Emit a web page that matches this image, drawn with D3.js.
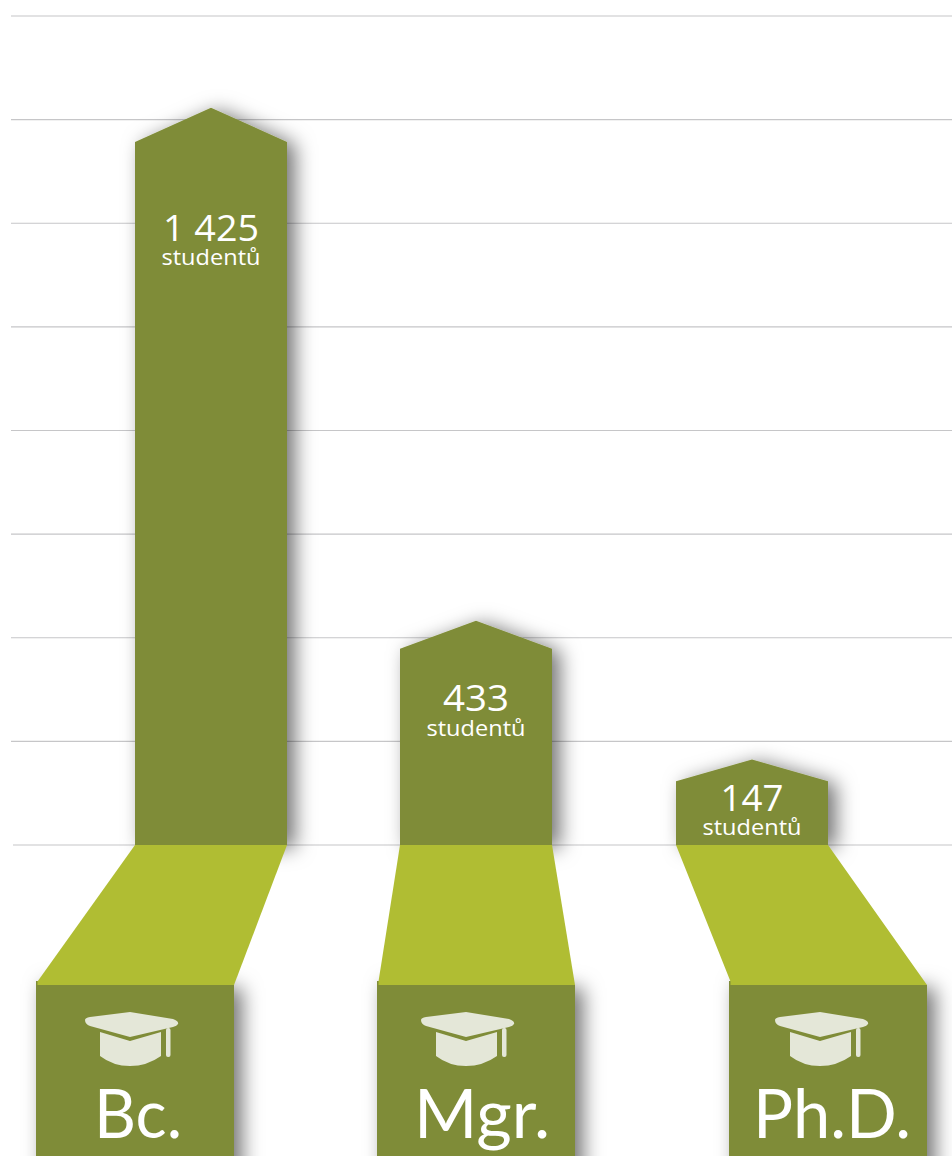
<!DOCTYPE html>
<html><head><meta charset="utf-8">
<script src="https://cdn.jsdelivr.net/npm/d3@7/dist/d3.min.js"></script>
<style>html,body{margin:0;padding:0;background:#fff}svg{display:block}text{font-family:"Open Sans",sans-serif;fill:#fff;text-anchor:middle}</style>
</head><body><div id="c"></div>
<script>
const categories = ["Bc.", "Mgr.", "Ph.D."];
const countLabels = ["1 425", "433", "147"];
const drawnValues = [1423, 433, 165]; // tip height (not strictly to scale)
const shoulderDrops = [66, 54, 42];   // tip-to-shoulder in value units
const unitLabel = "studentů";
const gridValues = [0, 200, 400, 600, 800, 1000, 1200, 1400, 1600];

const W = 952, H = 1156;
const dark = "#7f8c37", light = "#b0bd33", icon = "#e4e7d8";
const y = d3.scaleLinear().domain([0, 1600]).range([845, 16]);
const barCenters = {"Bc.":211,"Mgr.":476,"Ph.D.":752};
const boxCenters = {"Bc.":135,"Mgr.":476,"Ph.D.":828};
const iconCenters = {"Bc.":131,"Mgr.":467,"Ph.D.":821};
const labelCenters = {"Bc.":138,"Mgr.":482,"Ph.D.":832};
const barHalf = 76, boxHalf = 99, boxTop = 985;

const svg = d3.select("#c").append("svg").attr("width", W).attr("height", H);
const f = svg.append("defs").append("filter").attr("id","sh")
  .attr("x","-40%").attr("y","-30%").attr("width","190%").attr("height","160%");
f.append("feDropShadow").attr("dx",8).attr("dy",3).attr("stdDeviation",10)
  .attr("flood-color","#000").attr("flood-opacity",0.55);

svg.append("g").selectAll("line").data(gridValues).join("line")
  .attr("x1", d => d === 0 ? 13 : 11).attr("x2", W)
  .attr("y1", d => y(d)).attr("y2", d => y(d))
  .attr("stroke","#c6c6c8").attr("stroke-width",1.2);

const g = svg.append("g").selectAll("g").data(categories).join("g");

// upright arrow bars
g.append("path").attr("filter","url(#sh)").attr("fill",dark).attr("d",(c,i)=>{
  const cx = barCenters[c], tip = y(drawnValues[i]), sh = y(drawnValues[i]-shoulderDrops[i]);
  return `M${cx-barHalf},${y(0)}V${sh}L${cx},${tip}L${cx+barHalf},${sh}V${y(0)}Z`;
});

// bottom boxes
g.append("path").attr("filter","url(#sh)").attr("fill",dark).attr("d",c=>{
  const cx = boxCenters[c];
  return `M${cx-boxHalf},${boxTop-4}V${H+40}H${cx+boxHalf}V${boxTop}Z`;
});

// floor trapezoids
g.append("path").attr("fill",light).attr("d",c=>{
  const a = barCenters[c], b = boxCenters[c];
  return `M${a-barHalf},${y(0)}H${a+barHalf}L${b+boxHalf},${boxTop}H${b-boxHalf+1.5}L${b-boxHalf+1.5},${boxTop-3.5}Z`;
});

// graduation cap icon
const ic = g.append("g").attr("fill",icon).attr("transform",c=>`translate(${iconCenters[c]},1040)`);
ic.append("path").attr("d","M-1,-28 L42,-21 Q48,-19 47,-16 Q46,-14 42,-13 L-1,-3 L-41,-14 Q-46,-16 -46,-20 Q-46,-22 -41,-23 Z");
ic.append("path").attr("d","M-31,-8 L-1,1 L30,-8 V16 Q16,26 -1,26 Q-18,26 -31,16 Z");
ic.append("rect").attr("x",35).attr("y",-12).attr("width",4.5).attr("height",29).attr("rx",2);

// value labels
const numY = [241, 711, 811], unitY = [265, 736, 835];
g.append("text").attr("x",c=>barCenters[c]).attr("y",(c,i)=>numY[i])
  .attr("font-size",36).attr("font-weight",400).attr("textLength",(c,i)=>[96,66,63][i])
  .attr("lengthAdjust","spacingAndGlyphs").text((c,i)=>countLabels[i]);
g.append("text").attr("x",c=>barCenters[c]).attr("y",(c,i)=>unitY[i])
  .attr("font-size",22).attr("font-weight",400).attr("textLength",99)
  .attr("lengthAdjust","spacingAndGlyphs").text(unitLabel);

// category labels
g.append("text").style("font-family","Lato, sans-serif")
  .attr("x",c=>labelCenters[c]).attr("y",1138).attr("font-size",68).attr("font-weight",400)
  .attr("textLength",(c,i)=>[88,136,158][i]).attr("lengthAdjust","spacingAndGlyphs").text(c=>c);
</script></body></html>
